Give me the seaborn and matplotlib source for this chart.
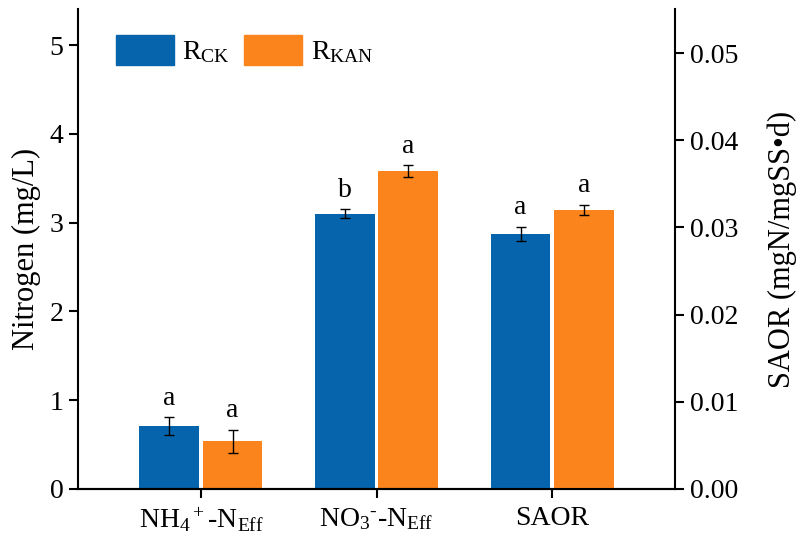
import matplotlib
matplotlib.use("Agg")
import matplotlib.pyplot as plt
from matplotlib.container import BarContainer
import pandas as pd
import seaborn as sns

# ---- data -------------------------------------------------------------
categories = ["NH4", "NO3", "SAOR"]
category_labels = [r"NH$_4$$^+$-N$_{Eff}$", "NO$_3$$^{\u2010}$-N$_{Eff}$", "SAOR"]
treatments = ["CK", "KAN"]
treatment_labels = [r"R$_{CK}$", r"R$_{KAN}$"]

# effluent nitrogen (mg/L), left axis
nitrogen_ck = [0.71, 3.10]
nitrogen_kan = [0.54, 3.58]
nitrogen_ck_sd = [0.10, 0.05]
nitrogen_kan_sd = [0.13, 0.065]

# specific ammonia oxidation rate (mgN/mgSS·d), right axis
saor_ck = [0.0293]
saor_kan = [0.0320]
saor_ck_sd = [0.0008]
saor_kan_sd = [0.0006]

# significance letters per group
letters_ck = ["a", "b", "a"]
letters_kan = ["a", "a", "a"]

colors = ["#0564AC", "#FB841C"]

# ---- table -------------------------------------------------------------
rows = []
for i, cat in enumerate(categories[:2]):
    rows.append((cat, "CK", nitrogen_ck[i], nitrogen_ck_sd[i], letters_ck[i]))
    rows.append((cat, "KAN", nitrogen_kan[i], nitrogen_kan_sd[i], letters_kan[i]))
rows.append(("SAOR", "CK", saor_ck[0], saor_ck_sd[0], letters_ck[2]))
rows.append(("SAOR", "KAN", saor_kan[0], saor_kan_sd[0], letters_kan[2]))
df = pd.DataFrame(rows, columns=["group", "treatment", "value", "sd", "letter"])

# ---- style -------------------------------------------------------------
sns.set_theme(style="ticks")
plt.rcParams.update({
    "font.family": ["Liberation Serif", "DejaVu Serif"],
    "mathtext.fontset": "custom",
    "mathtext.rm": "Liberation Serif",
    "mathtext.it": "Liberation Serif",
    "mathtext.bf": "Liberation Serif:bold",
    "mathtext.default": "regular",
    "axes.linewidth": 1.5,
    "axes.edgecolor": "black",
    "axes.labelcolor": "black",
    "text.color": "black",
    "xtick.color": "black",
    "ytick.color": "black",
})

fig = plt.figure(figsize=(8.02, 5.49), dpi=100)
ax = fig.add_axes([0.0973, 0.1093, 0.7444, 0.8734])
ax2 = ax.twinx()

bar_kw = dict(x="group", y="value", hue="treatment", order=categories,
              hue_order=treatments, palette=colors, width=0.72, gap=0.055,
              errorbar=None, saturation=1, linewidth=0)
sns.barplot(data=df[df.group != "SAOR"], ax=ax, legend=False, **bar_kw)
sns.barplot(data=df[df.group == "SAOR"], ax=ax2, legend=False, **bar_kw)


def decorate(axis):
    """Add error bars and significance letters to every bar on an axis."""
    bar_sets = [c for c in axis.containers if isinstance(c, BarContainer)]
    for h, container in enumerate(bar_sets):
        for bar in container.patches:
            xc = bar.get_x() + bar.get_width() / 2
            cat = categories[int(round(xc))]
            sel = df[(df.group == cat) & (df.treatment == treatments[h])]
            if sel.empty:
                continue
            rec = sel.iloc[0]
            axis.errorbar(xc, rec.value, yerr=rec.sd, fmt="none", ecolor="black",
                          elinewidth=1, capsize=3.5, capthick=1, zorder=5)
            axis.annotate(rec.letter, (xc, rec.value + rec.sd), xytext=(0, 9),
                          textcoords="offset points", ha="center", va="baseline",
                          fontsize=20)


decorate(ax)
decorate(ax2)

# ---- axes --------------------------------------------------------------
ax.set_xlim(-0.7, 2.7)
ax.set_xticks(range(len(categories)))
ax.set_xticklabels(category_labels)
ax.set_xlabel("")
ax2.set_xlabel("")

ax.set_ylim(0, 5.4)
ax.set_yticks([0, 1, 2, 3, 4, 5])
ax.set_ylabel("Nitrogen (mg/L)", fontsize=22, labelpad=6)

ax2.set_ylim(0, 0.055)
ax2.set_yticks([0, 0.01, 0.02, 0.03, 0.04, 0.05])
ax2.set_yticklabels([f"{v:.2f}" for v in [0, 0.01, 0.02, 0.03, 0.04, 0.05]])
ax2.set_ylabel("SAOR (mgN/mgSS\u2022d)", fontsize=22, labelpad=21, rotation=90)

for a in (ax, ax2):
    a.spines["top"].set_visible(False)
    a.tick_params(axis="both", direction="out", length=6.5, width=1.5,
                  labelsize=20, pad=4)
    a.grid(False)
ax.spines["right"].set_visible(False)
ax2.spines["left"].set_visible(False)
ax.tick_params(axis="x", pad=6)

handles = [plt.Rectangle((0, 0), 1, 1, color=c) for c in colors]
ax.legend(handles, treatment_labels, loc="upper left", bbox_to_anchor=(0.063, 0.947),
          ncol=2, frameon=False, fontsize=20, handlelength=2.1, handleheight=1.3,
          handletextpad=0.3, columnspacing=0.5, borderaxespad=0, borderpad=0)

fig.savefig("out.png", dpi=100, facecolor="white")
